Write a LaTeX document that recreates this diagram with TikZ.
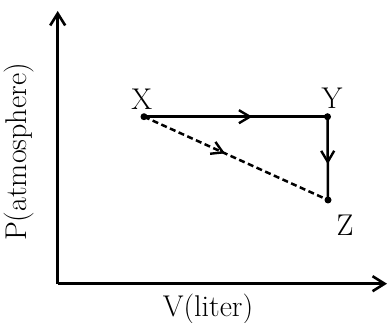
\documentclass[tikz,border=0pt]{standalone}
\usepackage{fontspec}
\usetikzlibrary{arrows.meta,decorations.markings}
\begin{document}
\begin{tikzpicture}[x=1pt,y=-1pt,
  axis/.style={line width=2.8pt,-{Straight Barb[length=12pt,width=15pt,line width=2.6pt]}},
  path/.style={line width=2.5pt},
  midarrow/.style={postaction={decorate,decoration={markings,
     mark=at position #1 with {\arrow{Straight Barb[length=11pt,width=13pt,line width=2.4pt]}}}}},
  dot/.style={circle,fill=black,inner sep=0pt,minimum size=7pt},
  lbl/.style={font=\fontsize{30}{36}\selectfont,inner sep=0pt,anchor=base}]
\useasboundingbox (0,0) rectangle (388,323);
\coordinate (O) at (57.7,283.7);
\coordinate (yt) at (57.7,11);
\coordinate (xt) at (387,283.7);
\draw[axis] (O) -- (yt);
\draw[axis] (O) -- (xt);
\node[dot] (X) at (144,116.7) {};
\node[dot] (Y) at (327.5,116.7) {};
\node[dot] (Z) at (328,200) {};
\draw[path,midarrow=0.59] (X.center) -- (Y.center);
\draw[path,midarrow=0.57] (Y.center) -- (Z.center);
\draw[path,dash pattern=on 6pt off 3.5pt,midarrow=0.44] (X.center) -- (Z.center);
\node[lbl] (lx) at (141.7,109.3) {X};
\node[lbl] (ly) at (332,108.5) {Y};
\node[lbl] (lz) at (345,235) {Z};
\node[lbl] (lv) at (208,316.7) {V(liter)};
\node[font=\fontsize{30}{36}\selectfont,inner sep=0pt,rotate=90] (lp) at (19,152) {P(atmosphere)};
\end{tikzpicture}
\end{document}
